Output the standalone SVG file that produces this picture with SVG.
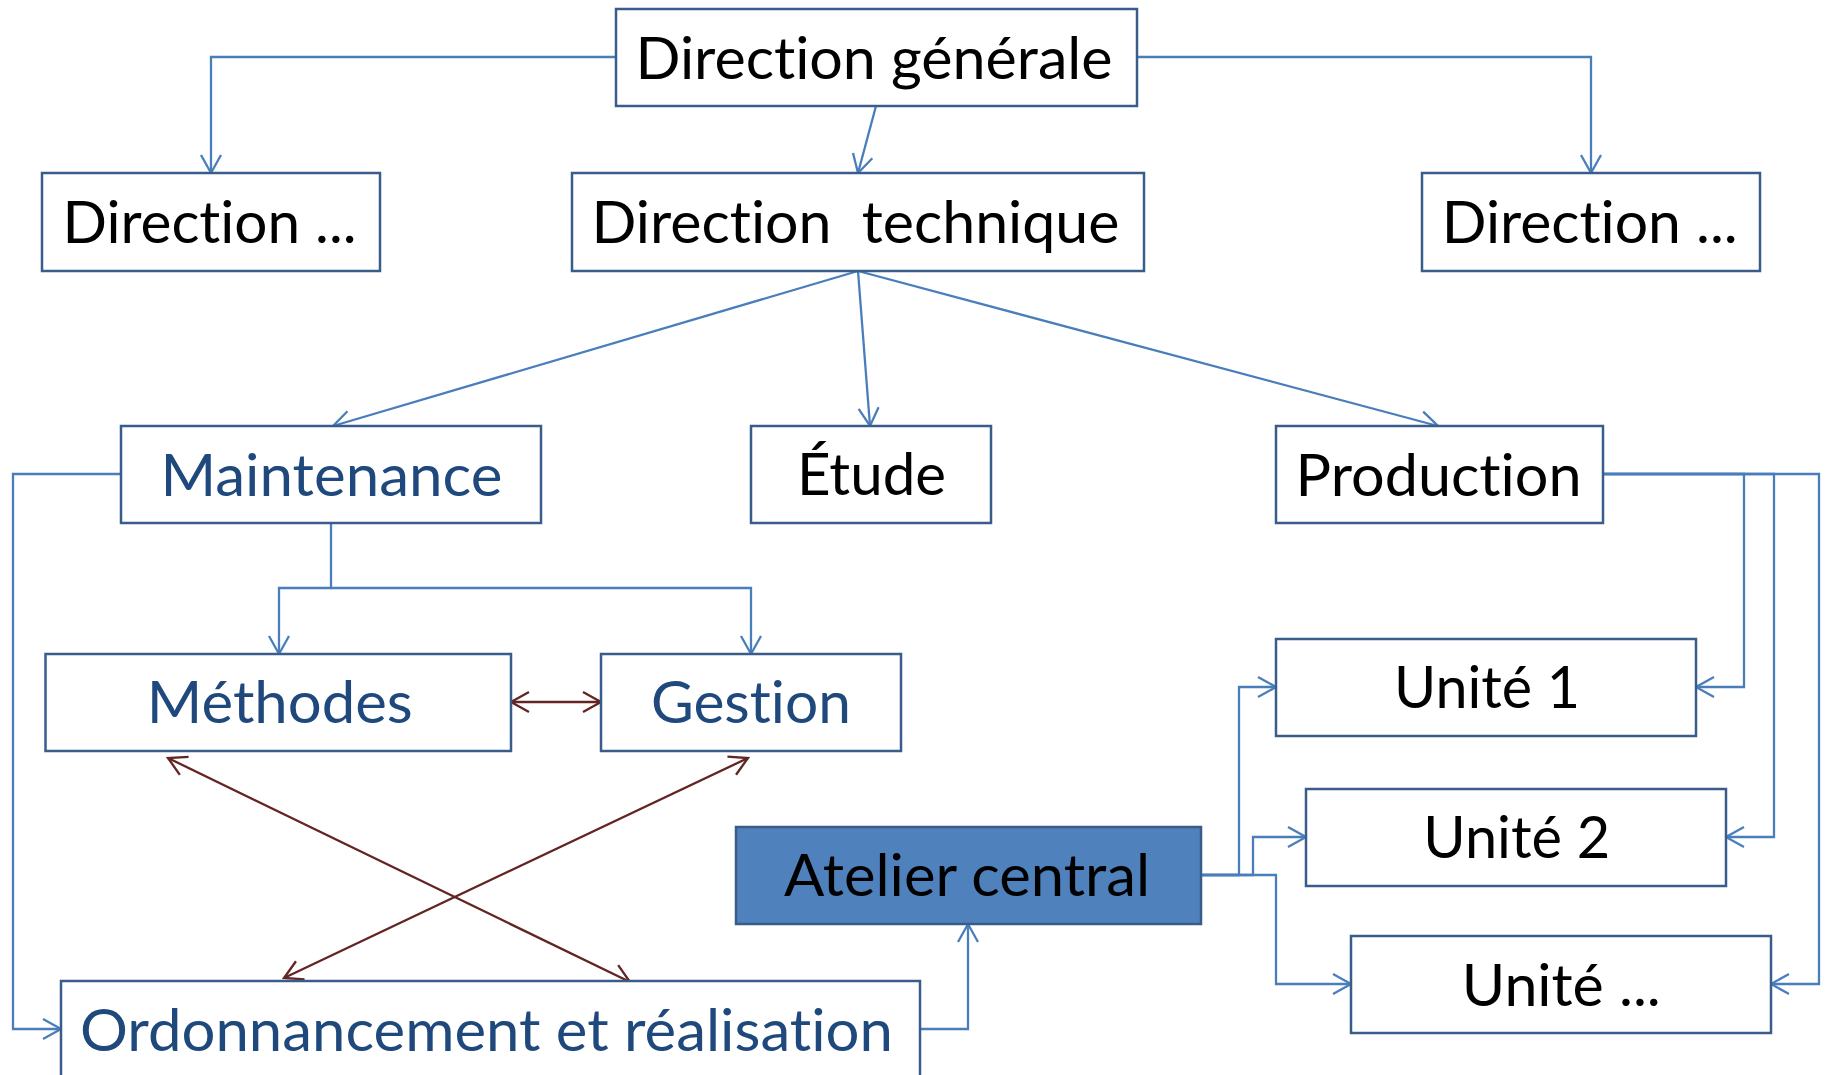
<svg xmlns="http://www.w3.org/2000/svg" width="1828" height="1075" viewBox="0 0 1828 1075">
  <style>
    .box { fill: #ffffff; stroke: #385D8A; stroke-width: 2.5; }
    .box.dark { fill: #4F81BD; }
    .lbl { font-family: "Lato", "Liberation Sans", sans-serif; font-size: 58px; fill: #000000; text-anchor: middle; font-variant-ligatures: none; font-feature-settings: "liga" 0; }
    .lbl.blue { fill: #1F497D; }
    .wire { fill: none; stroke: #4A7EBB; stroke-width: 2.3; }
    .wire.arr { marker-end: url(#headBlue); }
    .link { fill: none; stroke: #632523; stroke-width: 2.3; marker-start: url(#headRed); marker-end: url(#headRed); }
  </style>
  <defs>
    <marker id="headBlue" viewBox="-21 -12 24 24" refX="0" refY="0" markerWidth="24" markerHeight="24" markerUnits="userSpaceOnUse" orient="auto">
      <path d="M-18,-10 L0,0 L-18,10" fill="none" stroke="#4A7EBB" stroke-width="2.3"/>
    </marker>
    <marker id="headRed" viewBox="-21 -12 24 24" refX="0" refY="0" markerWidth="24" markerHeight="24" markerUnits="userSpaceOnUse" orient="auto-start-reverse">
      <path d="M-18,-10 L0,0 L-18,10" fill="none" stroke="#632523" stroke-width="2.3"/>
    </marker>
  </defs>

  <rect width="1828" height="1075" fill="#ffffff"/>

  <!-- connectors -->
  <g id="connectors">
    <path class="wire arr" d="M616,57 H211 V173"/>
    <path class="wire arr" d="M1137,57 H1591 V173"/>
    <path class="wire arr" d="M876,106 L858,173"/>
    <path class="wire arr" d="M858,271 L333,426"/>
    <path class="wire arr" d="M858,271 L870,426"/>
    <path class="wire arr" d="M858,271 L1438,426"/>
    <path class="wire arr" d="M121,474 H13 V1029 H61"/>
    <path class="wire arr" d="M331,523 V588 H279 V654"/>
    <path class="wire arr" d="M331,588 H751 V654"/>
    <path class="wire arr" d="M1603,474 H1744 V687 H1696"/>
    <path class="wire arr" d="M1603,474 H1774 V837 H1726"/>
    <path class="wire arr" d="M1603,474 H1819 V984 H1771"/>
    <path class="wire arr" d="M1201,875 H1239 V687 H1276"/>
    <path class="wire arr" d="M1201,875 H1253 V837 H1306"/>
    <path class="wire arr" d="M1201,875 H1276 V984 H1351"/>
    <path class="wire arr" d="M920,1029 H968 V924"/>
    <path class="link" d="M511,702 H601"/>
    <path class="link" d="M168,758 L630,982"/>
    <path class="link" d="M748,758 L284,978"/>
  </g>

  <g id="direction-generale">
    <rect class="box" x="616" y="9" width="521" height="97"/>
    <text class="lbl" x="874" y="79" textLength="477" lengthAdjust="spacingAndGlyphs">Direction générale</text>
  </g>
  <g id="direction-gauche">
    <rect class="box" x="42" y="173" width="338" height="98"/>
    <text class="lbl" x="209.5" y="243" textLength="294" lengthAdjust="spacingAndGlyphs">Direction ...</text>
  </g>
  <g id="direction-technique">
    <rect class="box" x="572" y="173" width="572" height="98"/>
    <text class="lbl" x="855.5" y="243" textLength="528" lengthAdjust="spacingAndGlyphs" xml:space="preserve">Direction  technique</text>
  </g>
  <g id="direction-droite">
    <rect class="box" x="1422" y="173" width="338" height="98"/>
    <text class="lbl" x="1589.7" y="243" textLength="296" lengthAdjust="spacingAndGlyphs">Direction ...</text>
  </g>
  <g id="maintenance">
    <rect class="box" x="121" y="426" width="420" height="97"/>
    <text class="lbl blue" x="331.4" y="496" textLength="342" lengthAdjust="spacingAndGlyphs">Maintenance</text>
  </g>
  <g id="etude">
    <rect class="box" x="751" y="426" width="240" height="97"/>
    <text class="lbl" x="871.5" y="495" textLength="149" lengthAdjust="spacingAndGlyphs">Étude</text>
  </g>
  <g id="production">
    <rect class="box" x="1276" y="426" width="327" height="97"/>
    <text class="lbl" x="1438.6" y="496" textLength="286" lengthAdjust="spacingAndGlyphs">Production</text>
  </g>
  <g id="methodes">
    <rect class="box" x="45.5" y="654" width="465.5" height="97"/>
    <text class="lbl blue" x="279.8" y="723" textLength="266" lengthAdjust="spacingAndGlyphs">Méthodes</text>
  </g>
  <g id="gestion">
    <rect class="box" x="601" y="654" width="300" height="97"/>
    <text class="lbl blue" x="750.9" y="723" textLength="200" lengthAdjust="spacingAndGlyphs">Gestion</text>
  </g>
  <g id="unite-1">
    <rect class="box" x="1276" y="639" width="420" height="97"/>
    <text class="lbl" x="1487" y="708" textLength="186" lengthAdjust="spacingAndGlyphs">Unité 1</text>
  </g>
  <g id="unite-2">
    <rect class="box" x="1306" y="789" width="420" height="97"/>
    <text class="lbl" x="1516.8" y="858" textLength="187" lengthAdjust="spacingAndGlyphs">Unité 2</text>
  </g>
  <g id="unite-n">
    <rect class="box" x="1351" y="936" width="420" height="97"/>
    <text class="lbl" x="1561.3" y="1006" textLength="199" lengthAdjust="spacingAndGlyphs">Unité ...</text>
  </g>
  <g id="atelier-central">
    <rect class="box dark" x="736" y="827" width="465" height="97"/>
    <text class="lbl" x="967.1" y="896" textLength="366" lengthAdjust="spacingAndGlyphs">Atelier central</text>
  </g>
  <g id="ordonnancement">
    <rect class="box" x="61" y="981" width="859" height="110"/>
    <text class="lbl blue" x="486.5" y="1051" textLength="813" lengthAdjust="spacingAndGlyphs">Ordonnancement et réalisation</text>
  </g>
</svg>
